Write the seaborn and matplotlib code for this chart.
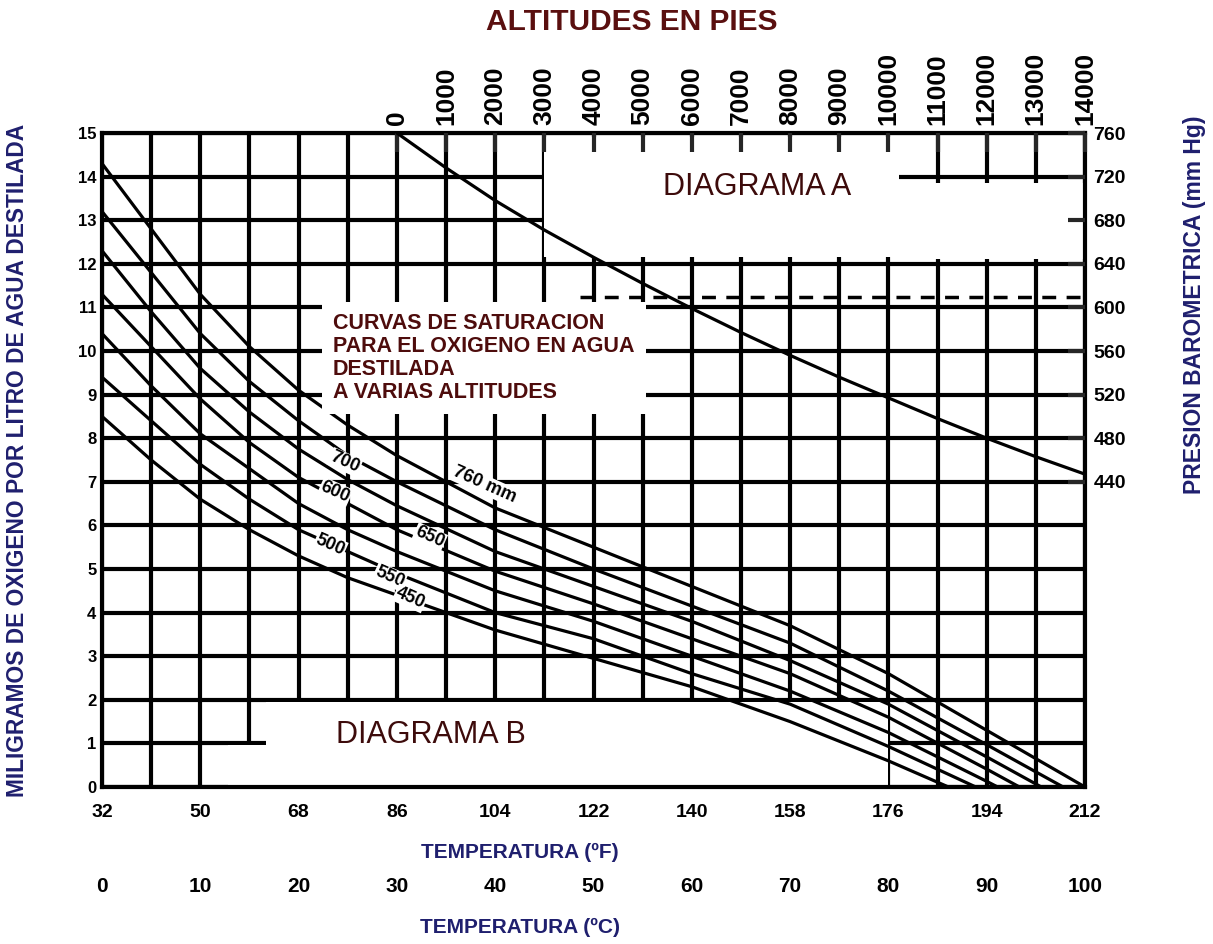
import numpy as np
import pandas as pd
import matplotlib
matplotlib.use("Agg")
import matplotlib.pyplot as plt
from matplotlib.patches import Rectangle
import seaborn as sns

sns.set_style("white")
plt.rcParams['font.family'] = ['Liberation Sans', 'DejaVu Sans']

# ---------------- data ----------------
temp_f_ticks = [32, 50, 68, 86, 104, 122, 140, 158, 176, 194, 212]
temp_c_ticks = [0, 10, 20, 30, 40, 50, 60, 70, 80, 90, 100]
mg_ticks = list(range(0, 16))
alt_ticks = [0, 1000, 2000, 3000, 4000, 5000, 6000, 7000, 8000, 9000,
             10000, 11000, 12000, 13000, 14000]
pres_ticks = [440, 480, 520, 560, 600, 640, 680, 720, 760]

# Diagram A : altitude (ft) vs barometric pressure (mm Hg)
alt_line_ft = [0, 1000, 2000, 3000, 4000, 5000, 6000, 7000, 8000, 9000,
               10000, 11000, 12000, 13000, 14000]
alt_line_mmhg = [760, 728, 698, 671, 646, 622, 599, 577, 556, 536,
                 517, 498, 480, 463, 447]

# Diagram B : saturation curves (temperature F vs mg/L) for each pressure
curve_760_f = [32, 41, 50, 59, 68, 77, 86, 104, 122, 140, 158, 176, 194, 212]
curve_760_do = [14.3, 12.8, 11.3, 10.1, 9.1, 8.3, 7.6, 6.4, 5.5, 4.6, 3.7, 2.6, 1.3, 0.0]
curve_700_f = [32, 41, 50, 59, 68, 77, 86, 104, 122, 140, 158, 176, 194, 208]
curve_700_do = [13.2, 11.8, 10.4, 9.3, 8.4, 7.6, 7.0, 5.9, 5.0, 4.15, 3.3, 2.2, 0.97, 0.0]
curve_650_f = [32, 41, 50, 59, 68, 77, 86, 104, 122, 140, 158, 176, 194, 204]
curve_650_do = [12.3, 10.9, 9.6, 8.6, 7.75, 7.05, 6.45, 5.4, 4.6, 3.8, 2.9, 1.9, 0.69, 0.0]
curve_600_f = [32, 41, 50, 59, 68, 77, 86, 104, 122, 140, 158, 176, 194, 200]
curve_600_do = [11.3, 10.1, 8.9, 7.9, 7.1, 6.5, 5.9, 4.95, 4.2, 3.4, 2.6, 1.6, 0.41, 0.0]
curve_550_f = [32, 41, 50, 59, 68, 77, 86, 104, 122, 140, 158, 176, 194, 196]
curve_550_do = [10.4, 9.2, 8.1, 7.3, 6.5, 5.9, 5.4, 4.5, 3.8, 3.0, 2.2, 1.25, 0.13, 0.0]
curve_500_f = [32, 41, 50, 59, 68, 77, 86, 104, 122, 140, 158, 176, 192]
curve_500_do = [9.4, 8.4, 7.4, 6.6, 5.9, 5.4, 4.9, 4.0, 3.4, 2.6, 1.9, 0.93, 0.0]
curve_450_f = [32, 41, 50, 59, 68, 77, 86, 104, 122, 140, 158, 176, 187]
curve_450_do = [8.5, 7.5, 6.6, 5.9, 5.3, 4.8, 4.4, 3.6, 2.95, 2.3, 1.5, 0.6, 0.0]

curve_labels = ["760 mm", "700", "650", "600", "550", "500", "450"]
curve_label_f = [102, 76.5, 92, 74.7, 84.7, 73.8, 88.4]
curve_label_do = [6.93, 7.45, 5.73, 6.77, 4.82, 5.55, 4.33]

curves = [(760, curve_760_f, curve_760_do), (700, curve_700_f, curve_700_do),
          (650, curve_650_f, curve_650_do), (600, curve_600_f, curve_600_do),
          (550, curve_550_f, curve_550_do), (500, curve_500_f, curve_500_do),
          (450, curve_450_f, curve_450_do)]
rows = []
for p, fs, vs in curves:
    for f, v in zip(fs, vs):
        rows.append({"F": f, "DO": v, "P": p})
df = pd.DataFrame(rows)
df_alt = pd.DataFrame({"ft": alt_line_ft, "mmhg": alt_line_mmhg})

MAROON = "#4e0c0c"
NAVY = "#1f1f6e"

# ---------------- figure ----------------
fig = plt.figure(figsize=(12.13, 9.44), dpi=100)
L, B = 102 / 1213, 1 - 787 / 944
W, H = (1085 - 102) / 1213, (787 - 133) / 944
ax = fig.add_axes([L, B, W, H])
ax.set_xlim(32, 212)
ax.set_ylim(0, 15)

ax.set_xticks(temp_f_ticks)
ax.set_xticks(np.arange(32, 213, 9), minor=True)
ax.set_yticks(mg_ticks)
ax.set_xticklabels([str(v) for v in temp_f_ticks], fontweight='bold', fontsize=14)
ax.set_yticklabels([str(v) for v in mg_ticks], fontweight='bold', fontsize=12)
ax.tick_params(which='both', length=0, labelcolor='black')
ax.tick_params(axis='x', pad=12)
ax.tick_params(axis='y', pad=4)
ax.set_axisbelow(True)
ax.grid(True, which='both', color='black', lw=3)
for s in ax.spines.values():
    s.set_visible(True)
    s.set_linewidth(3)
    s.set_color('black')

# blank areas of the original drawing
for (x0, y0, w, h) in [(113, 12.15, 65, 2.75), (178, 12.1, 34, 1.75),
                       (55, 0.04, 121, 0.93), (62, 0.97, 114, 0.98)]:
    ax.add_patch(Rectangle((x0, y0), w, h, facecolor='white', edgecolor='none', zorder=1))
ax.axhline(11.25, xmin=0.486, xmax=1.0, color='black', lw=2.5, ls=(0, (4, 3)), zorder=0.6)

sns.lineplot(data=df, x="F", y="DO", hue="P", palette={p: 'black' for p, _, _ in curves},
             legend=False, ax=ax, lw=2.3, estimator=None, sort=False, zorder=3)
ax.set_xlabel("")
ax.set_ylabel("")

for lab, f, v in zip(curve_labels, curve_label_f, curve_label_do):
    ax.text(f, v, lab, rotation=-24, rotation_mode='anchor', ha='center', va='center',
            fontsize=13, fontweight='bold', color='black', zorder=5,
            bbox=dict(facecolor='white', edgecolor='none', pad=0.6))

ax.text(0.235, 0.725, "CURVAS DE SATURACION\nPARA EL OXIGENO EN AGUA\nDESTILADA\nA VARIAS ALTITUDES",
        transform=ax.transAxes, ha='left', va='top', fontsize=15.5, fontweight='bold',
        color=MAROON, linespacing=1.12, zorder=6,
        bbox=dict(facecolor='white', edgecolor='none', pad=8))
ax.text(0.666, 0.917, "DIAGRAMA A", transform=ax.transAxes, ha='center', va='center',
        fontsize=22, color='#3d0b0b', zorder=6)
ax.text(0.335, 0.0795, "DIAGRAMA B", transform=ax.transAxes, ha='center', va='center',
        fontsize=22, color='#3d0b0b', zorder=6)

# Celsius scale
sec = ax.secondary_xaxis(-0.1315, functions=(lambda f: (f - 32) * 5 / 9,
                                             lambda c: c * 9 / 5 + 32))
sec.set_xticks(temp_c_ticks, labels=[str(v) for v in temp_c_ticks],
               fontweight='bold', fontsize=15)
sec.tick_params(length=0, pad=3, labelcolor='black')
sec.spines['bottom'].set_visible(False)

# Diagram A overlay (altitude / pressure scales)
ax2 = fig.add_axes([L, B, W, H], facecolor='none')
ax2.set_xlim(-6000, 14000)
ax2.set_ylim(160, 760)
sns.lineplot(data=df_alt, x="ft", y="mmhg", ax=ax2, color='black', lw=2.3)
ax2.set_xlabel("")
ax2.set_ylabel("")
ax2.grid(False)
for s in ax2.spines.values():
    s.set_visible(False)
ax2.xaxis.tick_top()
ax2.yaxis.tick_right()
ax2.set_xticks(alt_ticks, labels=[str(v) for v in alt_ticks], rotation=90,
               fontweight='bold', fontsize=19)
ax2.set_yticks(pres_ticks, labels=[str(v) for v in pres_ticks],
               fontweight='bold', fontsize=14)
ax2.tick_params(axis='x', direction='in', length=14, width=3, pad=6,
                bottom=False, labelbottom=False, labelcolor='black')
ax2.tick_params(axis='y', direction='in', length=12, width=3, pad=6,
                left=False, labelleft=False, labelcolor='black')

# titles and axis names
fig.text(0.521, 0.977, "ALTITUDES EN PIES", ha='center', va='center',
         fontsize=21.5, fontweight='bold', color='#5a0f0f')
fig.text(0.0148, 0.5127, "MILIGRAMOS DE OXIGENO POR LITRO DE AGUA DESTILADA",
         rotation=90, ha='center', va='center', fontsize=16.4, fontweight='bold', color=NAVY)
fig.text(0.985, 0.677, "PRESION BAROMETRICA (mm Hg)", rotation=90, ha='center',
         va='center', fontsize=16.5, fontweight='bold', color=NAVY)
fig.text(0.4287, 0.0975, "TEMPERATURA (ºF)", ha='center', va='center',
         fontsize=15, fontweight='bold', color=NAVY)
fig.text(0.4287, 0.017, "TEMPERATURA (ºC)", ha='center', va='center',
         fontsize=15, fontweight='bold', color=NAVY)

fig.savefig("out.png", dpi=100)
